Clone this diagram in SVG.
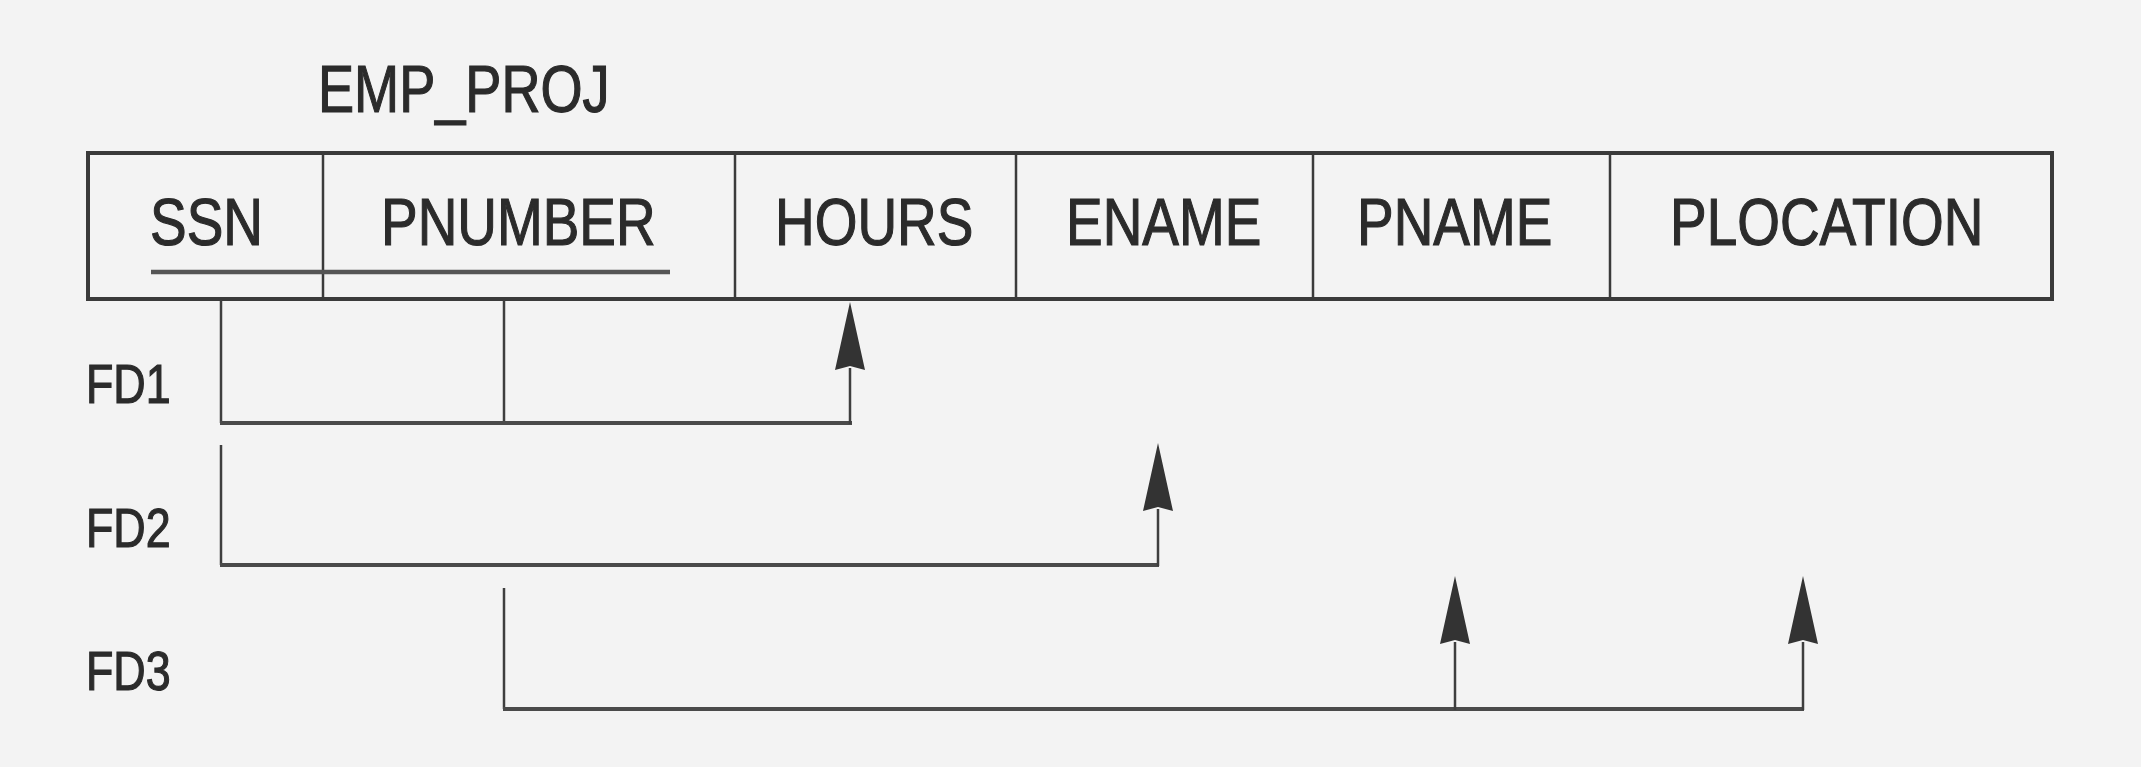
<svg xmlns="http://www.w3.org/2000/svg" width="2141" height="767" viewBox="0 0 2141 767">
  <style>
    .bg { fill: #f3f3f3; }
    .txt { font-family: "Liberation Sans", Arial, Helvetica, sans-serif; fill: #2b2b2b; stroke: #2b2b2b; stroke-width: 1.2; }
    .cell { font-size: 67px; }
    .title { font-size: 66px; }
    .fd { font-size: 56px; }
    .frame { fill: none; stroke: #3a3a3a; stroke-width: 4; }
    .div { stroke: #3a3a3a; stroke-width: 2.5; }
    .key { stroke: #555; stroke-width: 4.5; }
    .conn { fill: none; stroke: #3e3e3e; stroke-width: 2.5; }
    .hconn { fill: none; stroke: #4a4a4a; stroke-width: 4; }
    .head { fill: #333; }
  </style>
  <defs>
    <marker id="arrow" viewBox="0 0 68 30" refX="2" refY="15" markerWidth="68" markerHeight="30" markerUnits="userSpaceOnUse" orient="auto">
      <path class="head" d="M0,0 L68,15 L0,30 L4,15 Z"/>
    </marker>
  </defs>
  <rect class="bg" x="0" y="0" width="2141" height="767"/>

  <g id="title">
    <text class="txt title" transform="translate(318,112) scale(0.82,1)">EMP_PROJ</text>
  </g>

  <g id="emp_proj">
    <rect class="frame" x="88" y="153" width="1964" height="146"/>
    <line class="div" x1="323" y1="153" x2="323" y2="299"/>
    <line class="div" x1="735" y1="153" x2="735" y2="299"/>
    <line class="div" x1="1016" y1="153" x2="1016" y2="299"/>
    <line class="div" x1="1313" y1="153" x2="1313" y2="299"/>
    <line class="div" x1="1610" y1="153" x2="1610" y2="299"/>
    <g id="attr-ssn"><text class="txt cell" transform="translate(150,245) scale(0.82,1)">SSN</text></g>
    <g id="attr-pnumber"><text class="txt cell" transform="translate(381,245) scale(0.82,1)">PNUMBER</text></g>
    <g id="attr-hours"><text class="txt cell" transform="translate(775,245) scale(0.82,1)">HOURS</text></g>
    <g id="attr-ename"><text class="txt cell" transform="translate(1066,245) scale(0.82,1)">ENAME</text></g>
    <g id="attr-pname"><text class="txt cell" transform="translate(1357,245) scale(0.82,1)">PNAME</text></g>
    <g id="attr-plocation"><text class="txt cell" transform="translate(1670,245) scale(0.82,1)">PLOCATION</text></g>
    <line class="key" x1="151" y1="272" x2="670" y2="272"/>
  </g>

  <g id="fd-labels">
    <g id="fd1"><text class="txt fd" transform="translate(86,403) scale(0.8,1)">FD1</text></g>
    <g id="fd2"><text class="txt fd" transform="translate(86,547) scale(0.8,1)">FD2</text></g>
    <g id="fd3"><text class="txt fd" transform="translate(86,690) scale(0.8,1)">FD3</text></g>
  </g>

  <g id="connectors">
    <!-- FD1 -->
    <line class="conn" x1="221" y1="300" x2="221" y2="423"/>
    <line class="conn" x1="504" y1="300" x2="504" y2="423"/>
    <line class="hconn" x1="220" y1="423" x2="852" y2="423"/>
    <path class="conn" d="M850 424 V368" marker-end="url(#arrow)"/>
    <!-- FD2 -->
    <line class="conn" x1="221" y1="445" x2="221" y2="565"/>
    <line class="hconn" x1="220" y1="565" x2="1159" y2="565"/>
    <path class="conn" d="M1158 566 V509" marker-end="url(#arrow)"/>
    <!-- FD3 -->
    <line class="conn" x1="504" y1="588" x2="504" y2="709"/>
    <line class="hconn" x1="503" y1="709" x2="1804" y2="709"/>
    <path class="conn" d="M1455 710 V642" marker-end="url(#arrow)"/>
    <path class="conn" d="M1803 710 V642" marker-end="url(#arrow)"/>
  </g>
</svg>
